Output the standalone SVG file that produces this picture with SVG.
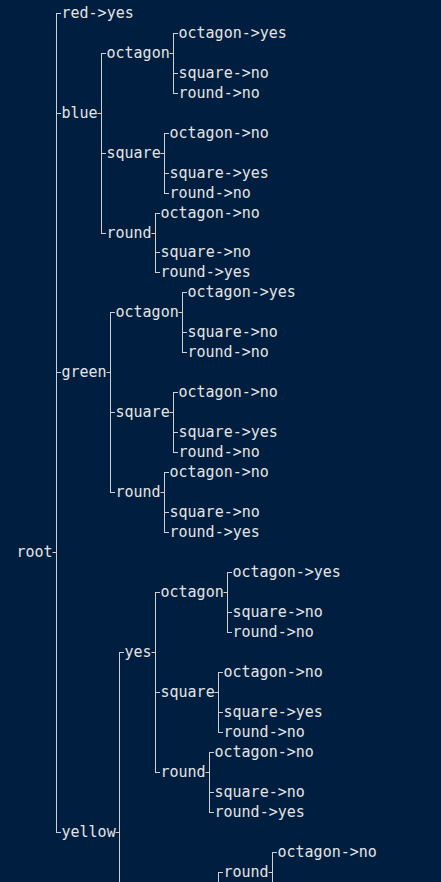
<svg xmlns="http://www.w3.org/2000/svg" width="441" height="882" viewBox="0 0 441 882">
<style>
.bg{fill:#001e3f}
.lbl{font-family:"DejaVu Sans Mono","Liberation Mono",monospace;font-size:15px;fill:#e4e4e4}
.ln{stroke:#d0d0d0;stroke-width:1;fill:none;stroke-linecap:square}
</style>
<rect class="bg" x="0" y="0" width="441" height="882"/>
<g id="connectors" class="ln">
<path d="M53 552.5H56.5M56.5 13.5V832.5M56.5 13.5H60.5M56.5 113.5H60.5M56.5 372.5H60.5M56.5 832.5H60.5"/>
<path d="M98 113.5H101.5M101.5 53.5V233.5M101.5 53.5H105.5M101.5 153.5H105.5M101.5 233.5H105.5"/>
<path d="M170 53.5H173.5M173.5 33.5V93.5M173.5 33.5H177.5M173.5 73.5H177.5M173.5 93.5H177.5"/>
<path d="M161 153.5H164.5M164.5 133.5V193.5M164.5 133.5H168.5M164.5 173.5H168.5M164.5 193.5H168.5"/>
<path d="M152 233.5H155.5M155.5 213.5V272.5M155.5 213.5H159.5M155.5 252.5H159.5M155.5 272.5H159.5"/>
<path d="M107 372.5H110.5M110.5 312.5V492.5M110.5 312.5H114.5M110.5 412.5H114.5M110.5 492.5H114.5"/>
<path d="M179 312.5H182.5M182.5 292.5V352.5M182.5 292.5H186.5M182.5 332.5H186.5M182.5 352.5H186.5"/>
<path d="M170 412.5H173.5M173.5 392.5V452.5M173.5 392.5H177.5M173.5 432.5H177.5M173.5 452.5H177.5"/>
<path d="M161 492.5H164.5M164.5 472.5V532.5M164.5 472.5H168.5M164.5 512.5H168.5M164.5 532.5H168.5"/>
<path d="M116 832.5H119.5M119.5 652.5V890M119.5 652.5H123.5"/>
<path d="M152 652.5H155.5M155.5 592.5V772.5M155.5 592.5H159.5M155.5 692.5H159.5M155.5 772.5H159.5"/>
<path d="M224 592.5H227.5M227.5 572.5V632.5M227.5 572.5H231.5M227.5 612.5H231.5M227.5 632.5H231.5"/>
<path d="M215 692.5H218.5M218.5 672.5V732.5M218.5 672.5H222.5M218.5 712.5H222.5M218.5 732.5H222.5"/>
<path d="M206 772.5H209.5M209.5 752.5V812.5M209.5 752.5H213.5M209.5 792.5H213.5M209.5 812.5H213.5"/>
<path d="M218.5 872.5V890M218.5 872.5H222.5"/>
<path d="M269 872.5H272.5M272.5 852.5V890M272.5 852.5H276.5"/>
</g>
<g class="lbl">
<g id="n-root"><text x="16.5" y="556.5">root</text></g>
<g id="n-red"><text x="61.5" y="17.5">red-&gt;yes</text></g>
<g id="n-blue"><text x="61.5" y="117.5">blue</text></g>
<g id="n-blue-octagon"><text x="106.5" y="57.5">octagon</text></g>
<g id="n-blue-octagon-octagon"><text x="178.5" y="37.5">octagon-&gt;yes</text></g>
<g id="n-blue-octagon-square"><text x="178.5" y="77.5">square-&gt;no</text></g>
<g id="n-blue-octagon-round"><text x="178.5" y="97.5">round-&gt;no</text></g>
<g id="n-blue-square"><text x="106.5" y="157.5">square</text></g>
<g id="n-blue-square-octagon"><text x="169.5" y="137.5">octagon-&gt;no</text></g>
<g id="n-blue-square-square"><text x="169.5" y="177.5">square-&gt;yes</text></g>
<g id="n-blue-square-round"><text x="169.5" y="197.5">round-&gt;no</text></g>
<g id="n-blue-round"><text x="106.5" y="237.5">round</text></g>
<g id="n-blue-round-octagon"><text x="160.5" y="217.5">octagon-&gt;no</text></g>
<g id="n-blue-round-square"><text x="160.5" y="256.5">square-&gt;no</text></g>
<g id="n-blue-round-round"><text x="160.5" y="276.5">round-&gt;yes</text></g>
<g id="n-green"><text x="61.5" y="376.5">green</text></g>
<g id="n-green-octagon"><text x="115.5" y="316.5">octagon</text></g>
<g id="n-green-octagon-octagon"><text x="187.5" y="296.5">octagon-&gt;yes</text></g>
<g id="n-green-octagon-square"><text x="187.5" y="336.5">square-&gt;no</text></g>
<g id="n-green-octagon-round"><text x="187.5" y="356.5">round-&gt;no</text></g>
<g id="n-green-square"><text x="115.5" y="416.5">square</text></g>
<g id="n-green-square-octagon"><text x="178.5" y="396.5">octagon-&gt;no</text></g>
<g id="n-green-square-square"><text x="178.5" y="436.5">square-&gt;yes</text></g>
<g id="n-green-square-round"><text x="178.5" y="456.5">round-&gt;no</text></g>
<g id="n-green-round"><text x="115.5" y="496.5">round</text></g>
<g id="n-green-round-octagon"><text x="169.5" y="476.5">octagon-&gt;no</text></g>
<g id="n-green-round-square"><text x="169.5" y="516.5">square-&gt;no</text></g>
<g id="n-green-round-round"><text x="169.5" y="536.5">round-&gt;yes</text></g>
<g id="n-yellow"><text x="61.5" y="836.5">yellow</text></g>
<g id="n-yellow-yes"><text x="124.5" y="656.5">yes</text></g>
<g id="n-yes-octagon"><text x="160.5" y="596.5">octagon</text></g>
<g id="n-yes-octagon-octagon"><text x="232.5" y="576.5">octagon-&gt;yes</text></g>
<g id="n-yes-octagon-square"><text x="232.5" y="616.5">square-&gt;no</text></g>
<g id="n-yes-octagon-round"><text x="232.5" y="636.5">round-&gt;no</text></g>
<g id="n-yes-square"><text x="160.5" y="696.5">square</text></g>
<g id="n-yes-square-octagon"><text x="223.5" y="676.5">octagon-&gt;no</text></g>
<g id="n-yes-square-square"><text x="223.5" y="716.5">square-&gt;yes</text></g>
<g id="n-yes-square-round"><text x="223.5" y="736.5">round-&gt;no</text></g>
<g id="n-yes-round"><text x="160.5" y="776.5">round</text></g>
<g id="n-yes-round-octagon"><text x="214.5" y="756.5">octagon-&gt;no</text></g>
<g id="n-yes-round-square"><text x="214.5" y="796.5">square-&gt;no</text></g>
<g id="n-yes-round-round"><text x="214.5" y="816.5">round-&gt;yes</text></g>
<g id="n-bottom-round"><text x="223.5" y="876.5">round</text></g>
<g id="n-bottom-round-octagon"><text x="277.5" y="856.5">octagon-&gt;no</text></g>
</g>
</svg>
